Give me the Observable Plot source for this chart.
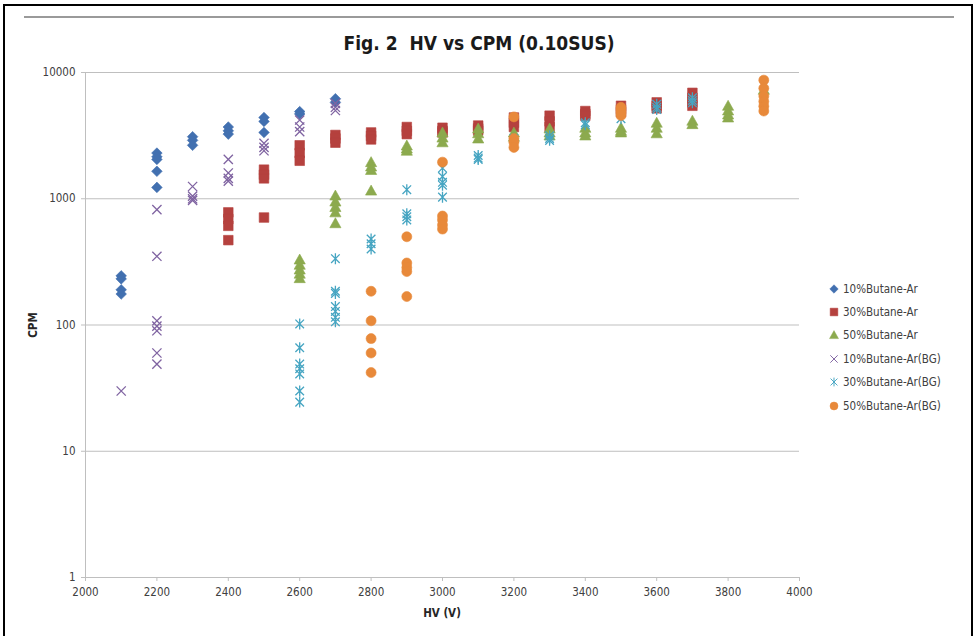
<!DOCTYPE html>
<html><head><meta charset="utf-8">
<script src="https://cdn.jsdelivr.net/npm/d3@7"></script>
<script src="https://cdn.jsdelivr.net/npm/@observablehq/plot@0.6"></script>
<style>
body{margin:0;background:#fff;}
#wrap{position:relative;width:975px;height:636px;overflow:hidden;font-family:"Liberation Sans Narrow","DejaVu Sans Condensed","Liberation Sans",sans-serif;}
.ln{position:absolute;background:#000;}
#title{position:absolute;left:0;width:958px;top:32px;text-align:center;font-size:19px;font-weight:bold;color:#1a1a1a;}
#xlab{position:absolute;left:0;width:884px;top:606px;text-align:center;font-size:11.5px;font-weight:bold;color:#262626;}
#ylab{position:absolute;left:33px;top:325px;transform:translate(-50%,-50%) rotate(-90deg);font-size:11.5px;font-weight:bold;color:#262626;}
#legend{position:absolute;left:827px;top:277px;font-size:11.5px;color:#404040;}
#legend div{height:23.4px;display:flex;align-items:center;}
#legend svg{margin-right:2px;}
#chart{position:absolute;left:0;top:0;}
</style></head>
<body><div id="wrap">
<div class="ln" style="left:3px;top:4px;width:970px;height:2px"></div>
<div class="ln" style="left:3px;top:4px;width:2px;height:632px"></div>
<div class="ln" style="left:971px;top:4px;width:2px;height:632px"></div>
<div class="ln" style="left:24px;top:16px;width:930px;height:2px;background:#9a9a9a"></div>
<div id="chart"></div>
<div id="title">Fig. 2&nbsp;&nbsp;HV vs CPM (0.10SUS)</div>
<div id="xlab">HV (V)</div>
<div id="ylab">CPM</div>
<div id="legend"></div>
</div>
<script>
// [HV (V), CPM] per series
const butane10 = [[2100,245],[2100,232],[2100,190],[2100,176],
  [2200,2300],[2200,2150],[2200,2050],[2200,1650],[2200,1230],
  [2300,3100],[2300,2900],[2300,2650],
  [2400,3700],[2400,3450],[2400,3250],
  [2500,4400],[2500,4100],[2500,3350],
  [2600,4900],[2600,4700],
  [2700,6200],[2700,5800]];
const butane30 = [[2400,780],[2400,690],[2400,610],[2400,470],
  [2500,1700],[2500,1550],[2500,1450],[2500,710],
  [2600,2650],[2600,2300],[2600,2000],
  [2700,3200],[2700,3000],[2700,2780],
  [2800,3350],[2800,3150],[2800,2950],
  [2900,3700],[2900,3450],[2900,3250],
  [3000,3650],[3000,3450],[3000,3350],
  [3100,3800],[3100,3600],[3100,3470],
  [3200,4400],[3200,4000],[3200,3700],
  [3300,4550],[3300,4100],[3300,3700],
  [3400,4950],[3400,4700],[3400,4550],
  [3500,5450],[3500,5100],[3500,4850],
  [3600,5800],[3600,5450],[3600,5200],
  [3700,6900],[3700,6300],[3700,5800],[3700,5450]];
const butane50 = [[2600,330],[2600,300],[2600,275],[2600,255],[2600,235],
  [2700,1060],[2700,950],[2700,860],[2700,780],[2700,640],
  [2800,1950],[2800,1800],[2800,1690],[2800,1160],
  [2900,2640],[2900,2500],[2900,2400],
  [3000,3350],[3000,3050],[3000,2800],
  [3100,3600],[3100,3300],[3100,3000],
  [3200,3350],[3200,3100],
  [3300,3600],[3300,3350],[3300,3170],
  [3400,3650],[3400,3350],[3400,3170],
  [3500,3650],[3500,3450],[3500,3350],
  [3600,4000],[3600,3650],[3600,3300],
  [3700,4150],[3700,3900],
  [3800,5450],[3800,5000],[3800,4650],[3800,4400],
  [3900,7300]];
const butane10BG = [[2100,30],
  [2200,820],[2200,350],[2200,108],[2200,98],[2200,90],[2200,60],[2200,49],
  [2300,1250],[2300,1050],[2300,1000],[2300,970],
  [2400,2050],[2400,1600],[2400,1450],[2400,1380],
  [2500,2750],[2500,2550],[2500,2400],
  [2600,4200],[2600,3700],[2600,3400],
  [2700,5700],[2700,5300],[2700,5000]];
const butane30BG = [[2600,102],[2600,66],[2600,49],[2600,45],[2600,41],[2600,30],[2600,24.5],
  [2700,335],[2700,185],[2700,178],[2700,140],[2700,128],[2700,115],[2700,106],
  [2800,480],[2800,440],[2800,400],
  [2900,1180],[2900,760],[2900,720],[2900,680],
  [3000,1750],[3000,1500],[3000,1350],[3000,1280],[3000,1030],
  [3100,2200],[3100,2100],[3100,2050],
  [3200,3000],[3200,2700],
  [3300,3150],[3300,3000],[3300,2900],
  [3400,4000],[3400,3850],
  [3500,4300],
  [3600,5600],[3600,5300],[3600,5100],
  [3700,6300],[3700,6000],[3700,5750]];
const butane50BG = [[2800,185],[2800,108],[2800,78],[2800,60],[2800,42],
  [2900,500],[2900,310],[2900,285],[2900,265],[2900,168],
  [3000,1950],[3000,730],[3000,680],[3000,620],[3000,575],
  [3200,4450],[3200,3000],[3200,2800],[3200,2550],
  [3500,5300],[3500,5000],[3500,4800],[3500,4560],
  [3900,8700],[3900,7500],[3900,6500],[3900,5900],[3900,5400],[3900,4950]];

const seriesNames = ["10%Butane-Ar","30%Butane-Ar","50%Butane-Ar","10%Butane-Ar(BG)","30%Butane-Ar(BG)","50%Butane-Ar(BG)"];
const seriesData = [butane10, butane30, butane50, butane10BG, butane30BG, butane50BG];
const seriesColors = ["#4270B0","#B5413E","#8CAA4E","#7F63A1","#46A5C2","#E8893A"];
const xTicks = [2000,2200,2400,2600,2800,3000,3200,3400,3600,3800,4000];
const yTicks = [1,10,100,1000,10000];

// marker shapes (Excel-like)
const symDiamond = {draw(c){const r=5.3;c.moveTo(0,-r);c.lineTo(r,0);c.lineTo(0,r);c.lineTo(-r,0);c.closePath();}};
const symSquare = {draw(c){const r=4.8;c.moveTo(-r,-r);c.lineTo(r,-r);c.lineTo(r,r);c.lineTo(-r,r);c.closePath();}};
const symTriangle = {draw(c){c.moveTo(0,-5.5);c.lineTo(5.6,4.5);c.lineTo(-5.6,4.5);c.closePath();}};
const symTimes = {draw(c){const r=4.6;c.moveTo(-r,-r);c.lineTo(r,r);c.moveTo(r,-r);c.lineTo(-r,r);}};
const symAster = {draw(c){const r=4.3;c.moveTo(-r,-r);c.lineTo(r,r);c.moveTo(r,-r);c.lineTo(-r,r);c.moveTo(0,-5.5);c.lineTo(0,5.5);}};
const symCircle = {draw(c){c.moveTo(5,0);c.arc(0,0,5,0,2*Math.PI);c.closePath();}};
const seriesSymbols = [symDiamond, symSquare, symTriangle, symTimes, symAster, symCircle];
const filled = [true,true,true,false,false,true];

const dotMarks = seriesData.map((d,i) => Plot.dot(d, {
  x: p => p[0], y: p => p[1], symbol: seriesSymbols[i], r: 5,
  fill: filled[i] ? seriesColors[i] : "none",
  stroke: seriesColors[i], strokeWidth: filled[i] ? 0.6 : 1.3
}));

const chart = Plot.plot({
  width: 975, height: 636,
  marginLeft: 85, marginRight: 176, marginTop: 72, marginBottom: 59,
  style: {fontFamily: '"Liberation Sans Narrow","DejaVu Sans Condensed","Liberation Sans",sans-serif', background: "transparent"},
  x: {domain: [2000, 4000]},
  y: {type: "log", domain: [1, 10000]},
  marks: [
    Plot.gridY(yTicks, {stroke: "#bfbfbf", strokeOpacity: 1}),
    Plot.ruleX([2000], {stroke: "#bfbfbf"}),
    Plot.ruleY([1], {stroke: "#bfbfbf"}),
    Plot.axisX(xTicks, {tickSize: 4, tickPadding: 6, fontSize: 11.5, tickFormat: d => String(d), label: null, stroke: "#bfbfbf", fill: "#404040"}),
    Plot.axisY(yTicks, {tickSize: 4, tickPadding: 6, fontSize: 11.5, tickFormat: d => String(d), label: null, stroke: "#bfbfbf", fill: "#404040"}),
    ...dotMarks
  ]
});
document.getElementById("chart").appendChild(chart);

// legend
const leg = document.getElementById("legend");
seriesNames.forEach((name, i) => {
  const row = document.createElement("div");
  const p = d3.path(); seriesSymbols[i].draw(p, 0);
  const s = 0.8;
  row.innerHTML = `<svg width="14" height="14" viewBox="-7 -7 14 14"><path transform="scale(${s})" d="${p.toString()}" fill="${filled[i] ? seriesColors[i] : "none"}" stroke="${seriesColors[i]}" stroke-width="${filled[i] ? 0.6 : 1.2}"/></svg><span>${name}</span>`;
  leg.appendChild(row);
});
</script>
</body></html>
